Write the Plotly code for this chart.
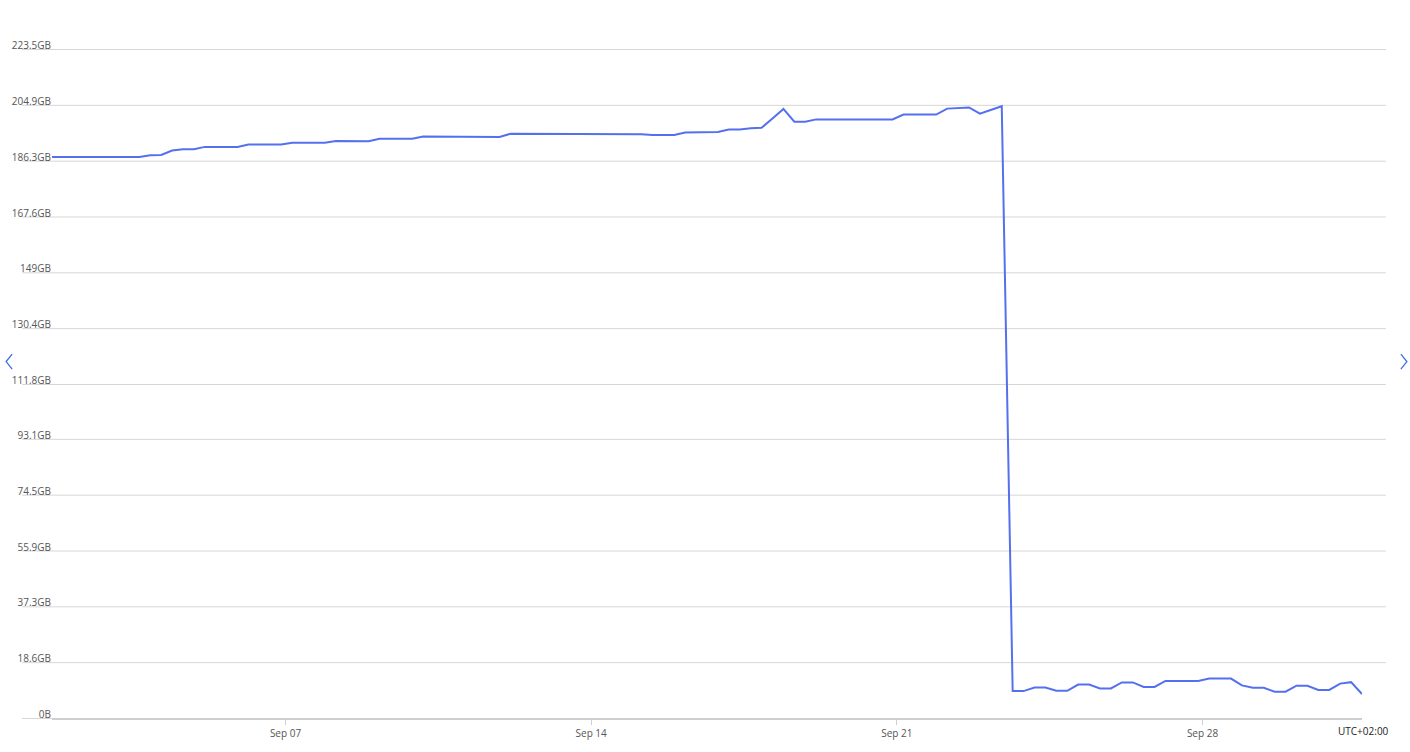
import math
import pandas as pd
import plotly.graph_objects as go

# ---- data (GiB, one sample every 6 hours) ----
START = "2024-09-01 15:40"
STEP = "6h"
used_gib = [
    187.7, 187.7, 187.7, 187.7, 187.7, 187.7, 187.7, 187.7, 187.7, 188.3,
    188.4, 189.9, 190.3, 190.3, 191.1, 191.1, 191.1, 191.1, 191.9, 191.9,
    191.9, 191.9, 192.5, 192.5, 192.5, 192.5, 193.1, 193.1, 193.0, 193.0,
    193.8, 193.8, 193.8, 193.8, 194.6, 194.6, 194.5, 194.4, 194.4, 194.4,
    194.4, 194.4, 195.5, 195.5, 195.5, 195.5, 195.5, 195.5, 195.5, 195.5,
    195.5, 195.5, 195.5, 195.5, 195.3, 195.1, 195.1, 195.1, 195.9, 195.9,
    196.0, 196.1, 196.9, 196.9, 197.3, 197.5, 200.6, 203.8, 199.5, 199.5,
    200.3, 200.3, 200.3, 200.3, 200.3, 200.3, 200.3, 200.3, 201.9, 201.9,
    201.9, 201.9, 203.9, 204.1, 204.3, 202.2, 203.5, 204.7, 9.0, 9.0,
    10.2, 10.2, 9.1, 9.1, 11.2, 11.2, 9.9, 9.9, 11.9, 11.9,
    10.4, 10.4, 12.4, 12.4, 12.4, 12.4, 13.2, 13.2, 13.2, 10.9,
    10.1, 10.1, 8.8, 8.8, 10.8, 10.8, 9.4, 9.4, 11.5, 12.0,
    8.0,
]
times = pd.date_range(START, periods=len(used_gib), freq=STEP)

tick_gb = [0, 20, 40, 60, 80, 100, 120, 140, 160, 180, 200, 220, 240]
tick_labels = ["0B", "18.6GB", "37.3GB", "55.9GB", "74.5GB", "93.1GB", "111.8GB",
               "130.4GB", "149GB", "167.6GB", "186.3GB", "204.9GB", "223.5GB"]
tick_gib = [g * 1e9 / 2**30 for g in tick_gb]
x_ticks = ["2024-09-07", "2024-09-14", "2024-09-21", "2024-09-28"]
tz_label = "UTC+02:00"

# ---- layout geometry ----
W, H = 1410, 752
ML, MR, MT, MB = 48, 48, 48, 32
PW, PH = W - ML - MR, H - MT - MB
GIB_PER_PX = tick_gib[-1] / 670.0
YTOP = tick_gib[-1] + 2 * GIB_PER_PX   # small headroom above the top gridline

def px(x):
    return (x - ML) / PW

def py(y):
    return (H - MB - y) / PH

GRID = "#d6d6d6"
LINE = "#5470ee"
FONT = "Open Sans"

fig = go.Figure()
fig.add_trace(go.Scatter(
    x=times, y=used_gib, mode="lines",
    line=dict(color=LINE, width=2), hoverinfo="x+y", showlegend=False,
))

shapes = []
# gridlines spanning slightly beyond the plot area (pixel-crisp)
for t in tick_gib:
    ypix = MT + PH * (1 - t / YTOP)
    ypix = math.floor(ypix) + 0.5
    yp = py(ypix)
    if t > 0:
        shapes.append(dict(type="line", xref="paper", yref="paper",
                           x0=px(18), x1=px(1386), y0=yp, y1=yp,
                           line=dict(color=GRID, width=1), layer="below"))
    else:
        shapes.append(dict(type="line", xref="paper", yref="paper",
                           x0=px(18), x1=0, y0=yp, y1=yp,
                           line=dict(color=GRID, width=1), layer="below"))
# navigation chevrons
shapes.append(dict(type="path", xref="paper", yref="paper",
                   path=f"M {px(8)} {py(355)} L {px(2)} {py(362.5)} L {px(8)} {py(370)}",
                   line=dict(color="#3a6fe0", width=1.3)))
shapes.append(dict(type="path", xref="paper", yref="paper",
                   path=f"M {px(1401)} {py(355)} L {px(1407)} {py(362.5)} L {px(1401)} {py(370)}",
                   line=dict(color="#3a6fe0", width=1.3)))

fig.update_layout(
    width=W, height=H,
    margin=dict(l=ML, r=MR, t=MT, b=MB),
    paper_bgcolor="white", plot_bgcolor="white",
    font=dict(family=FONT, size=10, color="#555555"),
    shapes=shapes,
    annotations=[dict(text=tz_label, xref="paper", yref="paper",
                      x=px(1391), y=py(733), xanchor="right", yanchor="middle",
                      showarrow=False, font=dict(family=FONT, size=10, color="#222222"))],
    xaxis=dict(
        range=[times[0], times[-1]],
        tickvals=x_ticks, tickformat="%b %d",
        showgrid=False, zeroline=False,
        showline=True, linecolor="#cfcfcf", linewidth=2,
        ticks="outside", ticklen=5, tickcolor="#cfcfcf", tickwidth=1,
        tickfont=dict(family=FONT, size=10, color="#555555"),
    ),
    yaxis=dict(
        range=[0, YTOP],
        tickvals=tick_gib, ticktext=tick_labels,
        showgrid=False,
        zeroline=False, showline=False, ticks="",
        ticklabelposition="outside top",
        ticklabelshift=3,
        tickfont=dict(family=FONT, size=10, color="#555555"),
    ),
)

fig.write_html(
    "out.html",
    config={"displayModeBar": False},
    post_script="document.body.style.margin='0';document.body.style.overflow='hidden';",
)
